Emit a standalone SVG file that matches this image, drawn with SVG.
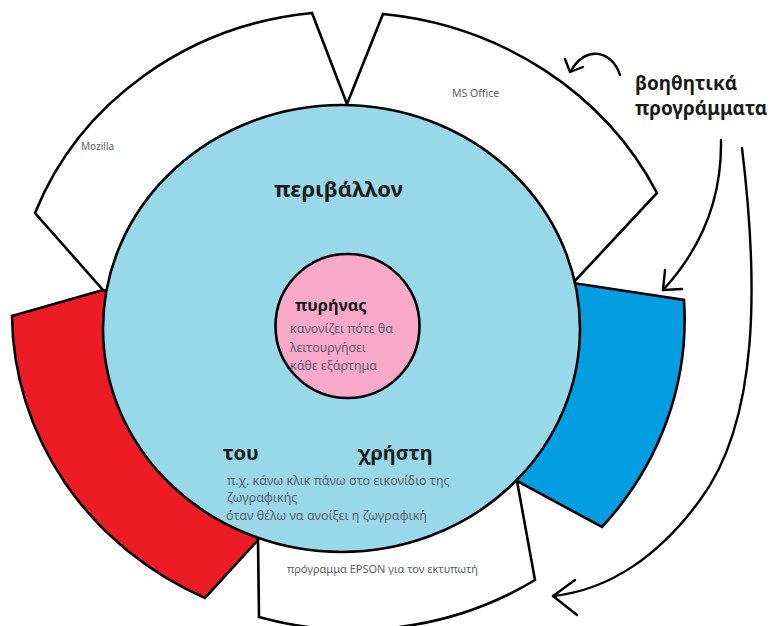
<svg xmlns="http://www.w3.org/2000/svg" width="770" height="626" viewBox="0 0 770 626">
<style>
.seg{stroke:#000;stroke-width:2.6;stroke-linejoin:miter}
.white{fill:#fff}
.env{fill:#98d8e9;stroke:#000;stroke-width:2.6}
.core{fill:#f8a9c8;stroke:#000;stroke-width:2.6}
.arrow{fill:none;stroke:#000;stroke-width:2.4;stroke-linecap:round;stroke-linejoin:round}
.b{font-family:"Noto Sans","Open Sans","DejaVu Sans",sans-serif;font-weight:bold;fill:#1a1a1a}
.s{font-family:"Noto Sans","Open Sans","DejaVu Sans",sans-serif;fill:#5e5e6c}
</style>
<rect width="770" height="626" fill="#fff"/>
<g id="mozilla">
<path class="seg white" d="M103,290 L35,213 A333,312 0 0 1 312,13 L347,104 L341,328 Z"/>
<text class="s" x="81" y="150" font-size="10">Mozilla</text>
</g>
<g id="ms-office">
<path class="seg white" d="M347,104 L383,14 A345,322 0 0 1 657,193 L573,283 L341,328 Z"/>
<text class="s" x="452" y="97" font-size="10.5">MS Office</text>
</g>
<g id="blue-segment">
<path class="seg" fill="#039ee2" d="M573,283 L684,300 A340,318 0 0 1 602,527 L517,481 L341,328 Z"/>
</g>
<g id="red-segment">
<path class="seg" fill="#ec1b24" d="M103,290 L12,316 A335,315 0 0 0 205,598 L258,540 L341,328 Z"/>
</g>
<g id="epson">
<path class="seg white" d="M258,540 L259,617 A335,315 0 0 0 535,580 L517,481 L341,328 Z"/>
<text class="s" x="287" y="573" font-size="11">πρόγραμμα EPSON για τον εκτυπωτή</text>
</g>
<g id="environment">
<ellipse class="env" cx="341.5" cy="328.5" rx="238.5" ry="223.5"/>
<text class="b" x="274" y="197" font-size="22">περιβάλλον</text>
<text class="b" x="223" y="460" font-size="20">του</text>
<text class="b" x="358" y="460" font-size="20">χρήστη</text>
<text class="s" x="227" y="485" font-size="12.5">π.χ. κάνω κλικ πάνω στο εικονίδιο της</text>
<text class="s" x="227" y="502" font-size="12.5">ζωγραφικής</text>
<text class="s" x="226" y="520" font-size="12.5">όταν θέλω να ανοίξει η ζωγραφική</text>
</g>
<g id="kernel">
<circle class="core" cx="347.5" cy="326" r="72"/>
<text class="b" x="295" y="311" font-size="16.5">πυρήνας</text>
<text class="s" x="290" y="333" font-size="12.5">κανονίζει πότε θα</text>
<text class="s" x="290" y="352" font-size="12.5">λειτουργήσει</text>
<text class="s" x="290" y="370" font-size="12.5">κάθε εξάρτημα</text>
</g>
<g id="helper-programs">
<text class="b" x="635" y="90" font-size="19">βοηθητικά</text>
<text class="b" x="635" y="115" font-size="19">προγράμματα</text>
</g>
<g id="connectors">
<path class="arrow" d="M620,75 C612,50 585,45 571,71"/>
<polyline class="arrow" points="565,59 570,72 583,67"/>
<path class="arrow" d="M721,140 C722,200 700,250 663,290"/>
<polyline class="arrow" points="665,270 663,290 682,289"/>
<path class="arrow" d="M742,148 C758,280 760,420 700,500 C660,555 610,590 553,596"/>
<polyline class="arrow" points="575,580 553,596 577,615"/>
</g>
</svg>
